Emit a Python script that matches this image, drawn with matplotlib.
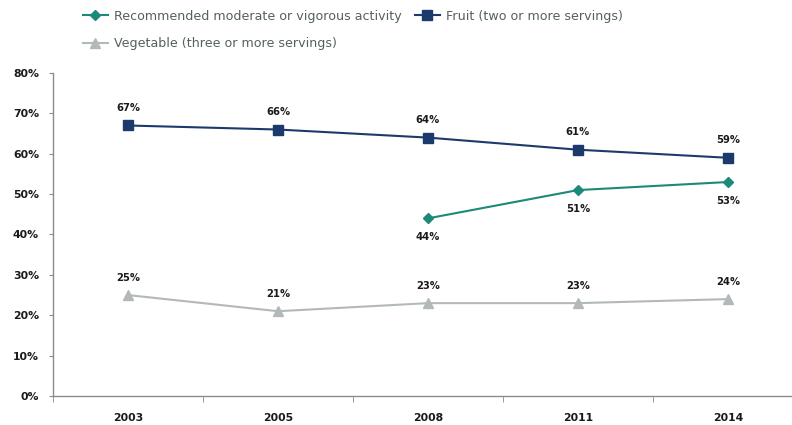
import matplotlib.pyplot as plt
import numpy as np

plt.rcParams['font.family'] = ['DejaVu Sans']

years = ['2003', '2005', '2008', '2011', '2014']
activity = [np.nan, np.nan, 44, 51, 53]
fruit = [67, 66, 64, 61, 59]
vegetable = [25, 21, 23, 23, 24]

c_act = '#1b8a78'
c_fruit = '#1c3a6b'
c_veg = '#b3b9bb'
axis_c = '#8c8c8c'

fig = plt.figure(figsize=(7.92, 4.25), dpi=100)
ax = fig.add_axes([53 / 792, 1 - 396 / 425, 750 / 792, 323 / 425])

x = np.arange(len(years))
l_act, = ax.plot(x, activity, color=c_act, marker='D', markersize=5.5, lw=1.5,
                 label='Recommended moderate or vigorous activity')
l_fruit, = ax.plot(x, fruit, color=c_fruit, marker='s', markersize=7, lw=1.5,
                   label='Fruit (two or more servings)')
l_veg, = ax.plot(x, vegetable, color=c_veg, marker='^', markersize=7, lw=1.5,
                 label='Vegetable (three or more servings)')

lab_kw = dict(ha='center', fontsize=7.2, fontweight='bold', color='#1a1a1a',
              textcoords='offset points')
for xi, v in zip(x, fruit):
    ax.annotate(f'{v}%', (xi, v), xytext=(0, 9), va='bottom', **lab_kw)
for xi, v in zip(x, vegetable):
    ax.annotate(f'{v}%', (xi, v), xytext=(0, 9), va='bottom', **lab_kw)
for xi, v in zip(x, activity):
    if not np.isnan(v):
        ax.annotate(f'{v}%', (xi, v), xytext=(0, -10), va='top', **lab_kw)

ax.set_xlim(-0.5, len(years) - 0.5)
ax.set_ylim(0, 80)
ax.set_yticks(range(0, 81, 10))
ax.set_yticklabels([f'{t}%' for t in range(0, 81, 10)])
ax.set_xticks(x)
ax.set_xticklabels(years)
ax.set_xticks(np.arange(-0.5, len(years)), minor=True)

for s in ['top', 'right']:
    ax.spines[s].set_visible(False)
for s in ['left', 'bottom']:
    ax.spines[s].set_color(axis_c)
    ax.spines[s].set_linewidth(1.0)

ax.tick_params(axis='y', length=3, color=axis_c, labelsize=7.8, pad=7)
ax.tick_params(axis='x', which='major', length=0, labelsize=7.8, pad=12)
ax.tick_params(axis='x', which='minor', length=4, color=axis_c)
for lbl in ax.get_xticklabels() + ax.get_yticklabels():
    lbl.set_fontweight('bold')
    lbl.set_color('#1a1a1a')

leg = fig.legend(handles=[l_act, l_veg, l_fruit], ncol=2,
                 loc='upper left', bbox_to_anchor=(80 / 792, 1 - 7 / 425),
                 frameon=False, fontsize=9.1, labelspacing=1.15,
                 handlelength=2.0, handletextpad=0.5, columnspacing=1.0,
                 borderaxespad=0, borderpad=0.2)
for t in leg.get_texts():
    t.set_color('#55605f')

fig.savefig('out.png', dpi=100)
